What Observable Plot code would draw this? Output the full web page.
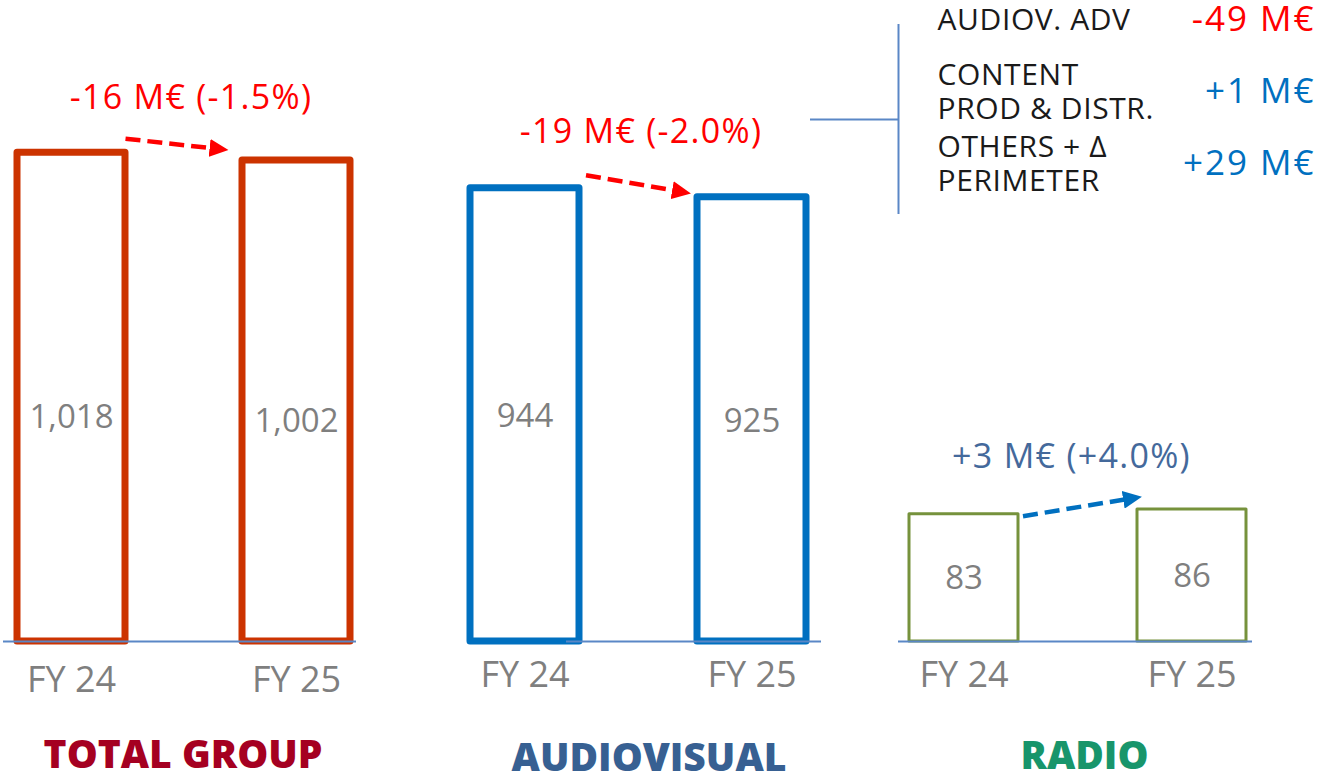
<!DOCTYPE html>
<html>
<head>
<meta charset="utf-8">
<script src="https://cdn.jsdelivr.net/npm/d3@7"></script>
<script src="https://cdn.jsdelivr.net/npm/@observablehq/plot@0.6"></script>
<style>
  html, body { margin: 0; padding: 0; background: #ffffff; }
  #wrap { position: relative; width: 1326px; height: 779px; overflow: hidden; background: #ffffff; }
  #wrap svg { position: absolute; left: 0; top: 0; max-width: none; }
  /* wider tracking to approach the original geometric typeface */
  #wrap g[font-size="34"][fill="#FF0000"] text, #wrap g[font-size="34"][fill="#44699B"] text { letter-spacing: 1.3px; }
  #wrap g[font-size="35"] text { letter-spacing: 2px; }
  #wrap g[font-size="30"] text { letter-spacing: 0.6px; }
</style>
</head>
<body>
<div id="wrap"></div>
<script>
// ---------- DATA ----------
const years = ["FY 24", "FY 25"];
const segments = ["TOTAL GROUP", "AUDIOVISUAL", "RADIO"];
const totalGroup = [1018, 1002];
const audiovisual = [944, 925];
const radio = [83, 86];
const changeAbs = [-16, -19, 3];          // M€
const changePct = [-1.5, -2.0, 4.0];      // %
const breakdownLabels = ["AUDIOV. ADV", "CONTENT\nPROD & DISTR.", "OTHERS + Δ\nPERIMETER"];
const breakdownValues = [-49, 1, 29];     // M€

// ---------- LAYOUT / STYLE ----------
const W = 1326, H = 779, BASE = 641;
const FONT = "'Open Sans', 'Noto Sans', sans-serif";
const RULE = "#5A87C6";
const GREY = "#7F7F7F";

const panelStyles = [
  {frame: [3, 356], range: [16.5, 350.5], yMax: 1335, stroke: "#CC3300", sw: 7,
   titleColor: "#A50021", changeColor: "#FF0000", arrowColor: "#FF0000",
   arrowOff: [54, -14, -74, -11], valueDy: 20, fyDy: 39,
   changeDx: 11, changeDy: 98, titleDx: 3, titleDy: 114},
  {frame: [566, 821], range: [469.5, 805.5], yMax: 1335, stroke: "#0070C0", sw: 7,
   titleColor: "#376092", changeColor: "#FF0000", arrowColor: "#FF0000",
   arrowOff: [61, -13, -67, -5], valueDy: 2, fyDy: 34,
   changeDx: -53, changeDy: 132, titleDx: -45, titleDy: 117},
  {frame: [898, 1252], range: [908.5, 1246.5], yMax: 418, stroke: "#76923C", sw: 3,
   titleColor: "#18956B", changeColor: "#44699B", arrowColor: "#0070C0",
   arrowOff: [59, 2, -56, -12], valueDy: 1, fyDy: 34,
   changeDx: -4, changeDy: -184, titleDx: 9, titleDy: 115}
];
const panelValues = [totalGroup, audiovisual, radio];

const fmtNum = d3.format(",");
const sgn = v => (v > 0 ? "+" : "");
const changeLabel = i => `${sgn(changeAbs[i])}${changeAbs[i]} M€ (${sgn(changePct[i])}${changePct[i].toFixed(1)}%)`;

// custom curve: shifts the link's start/end (pixel offsets) so it runs between the bars
function offsetCurve(o) {
  return function(context) {
    let pts = [];
    return {
      areaStart() {}, areaEnd() {},
      lineStart() { pts = []; },
      point(x, y) { pts.push([+x, +y]); },
      lineEnd() {
        if (pts.length < 2) return;
        const [x1, y1] = pts[0], [x2, y2] = pts[pts.length - 1];
        context.moveTo(x1 + o[0], y1 + o[1]);
        context.lineTo(x2 + o[2], y2 + o[3]);
      }
    };
  };
}

// custom filled triangular arrowhead marker
function triangleMarker(color, context) {
  const doc = (context && context.document) || document;
  const ns = "http://www.w3.org/2000/svg";
  const m = doc.createElementNS(ns, "marker");
  m.setAttribute("viewBox", "-19 -9 19 18");
  m.setAttribute("markerWidth", 19);
  m.setAttribute("markerHeight", 18);
  m.setAttribute("markerUnits", "userSpaceOnUse");
  m.setAttribute("orient", "auto");
  m.setAttribute("refX", -6);
  m.setAttribute("refY", 0);
  const p = doc.createElementNS(ns, "path");
  p.setAttribute("d", "M-19,-9L0,0L-19,9Z");
  p.setAttribute("fill", color);
  p.setAttribute("stroke", "none");
  p.setAttribute("stroke-dasharray", "none");
  m.appendChild(p);
  return m;
}

function arrowMark(data, opts) {
  try {
    return Plot.link(data, {...opts, markerEnd: triangleMarker});
  } catch (e) {
    return Plot.link(data, {...opts, markerEnd: "arrow"});
  }
}

function panelPlot(i) {
  const s = panelStyles[i];
  const vals = panelValues[i];
  const data = years.map((year, j) => ({year, value: vals[j]}));
  const arrowData = [{from: years[0], to: years[1], v0: vals[0], v1: vals[1]}];
  return Plot.plot({
    width: W, height: H,
    marginLeft: s.frame[0], marginRight: W - s.frame[1],
    marginTop: 0, marginBottom: H - BASE,
    x: {type: "band", domain: years, range: s.range, paddingInner: 0.52, paddingOuter: 0, axis: null},
    y: {domain: [0, s.yMax], axis: null},
    style: {background: "transparent", fontFamily: FONT, overflow: "visible"},
    marks: [
      Plot.barY(data, {x: "year", y: "value", fill: "white", stroke: s.stroke, strokeWidth: s.sw, strokeLinejoin: "round"}),
      Plot.ruleY([0], {stroke: RULE, strokeWidth: 2}),
      Plot.text(data, {x: "year", y: d => d.value / 2, text: d => fmtNum(d.value), fill: GREY, fontSize: 33,
        lineAnchor: "middle", dy: s.valueDy}),
      Plot.text(data, {x: "year", frameAnchor: "bottom", lineAnchor: "middle", text: "year", fill: GREY,
        fontSize: 36, dy: s.fyDy}),
      arrowMark(arrowData, {x1: "from", y1: "v0", x2: "to", y2: "v1",
        stroke: s.arrowColor, strokeWidth: 4.5, strokeDasharray: "15 7",
        curve: offsetCurve(s.arrowOff)}),
      Plot.text([changeLabel(i)], {frameAnchor: i === 2 ? "bottom" : "top", lineAnchor: "middle",
        text: d => d, fill: s.changeColor, fontSize: 34, dx: s.changeDx, dy: s.changeDy}),
      Plot.text([segments[i]], {frameAnchor: "bottom", lineAnchor: "middle", text: d => d, fill: s.titleColor,
        fontSize: 39, fontWeight: 800, dx: s.titleDx, dy: s.titleDy})
    ]
  });
}

function breakdownPlot() {
  const rows = breakdownLabels.map((label, j) => ({label, value: breakdownValues[j]}));
  return Plot.plot({
    width: W, height: H,
    marginLeft: 937, marginRight: W - 1315, marginTop: 0, marginBottom: 0,
    x: {domain: [0, 1], axis: null},
    y: {type: "point", domain: breakdownLabels, range: [19, 163], padding: 0, axis: null},
    color: {type: "identity"},
    style: {background: "transparent", fontFamily: FONT, overflow: "visible"},
    marks: [
      Plot.text(rows, {y: "label", text: "label", frameAnchor: "left", textAnchor: "start", lineAnchor: "middle",
        fontSize: 30, lineHeight: 1.12, fill: "#1a1a1a"}),
      Plot.text(rows, {y: "label", text: d => `${sgn(d.value)}${d.value} M€`, frameAnchor: "right",
        textAnchor: "end", lineAnchor: "middle",
        fontSize: 35, fill: d => (d.value < 0 ? "#FF0000" : "#0070C0")})
    ]
  });
}

function bracketPlot() {
  return Plot.plot({
    width: W, height: H,
    marginLeft: 810, marginRight: W - 898, marginTop: 24, marginBottom: H - 214,
    x: {domain: [0, 1], axis: null},
    y: {domain: [0, 1], axis: null},
    style: {background: "transparent", overflow: "visible"},
    marks: [
      Plot.ruleX([1], {stroke: RULE, strokeWidth: 2}),
      Plot.ruleY([0.5], {stroke: RULE, strokeWidth: 2})
    ]
  });
}

const wrap = document.getElementById("wrap");
[0, 1, 2].forEach(i => wrap.appendChild(panelPlot(i)));
wrap.appendChild(bracketPlot());
wrap.appendChild(breakdownPlot());
</script>
</body>
</html>
